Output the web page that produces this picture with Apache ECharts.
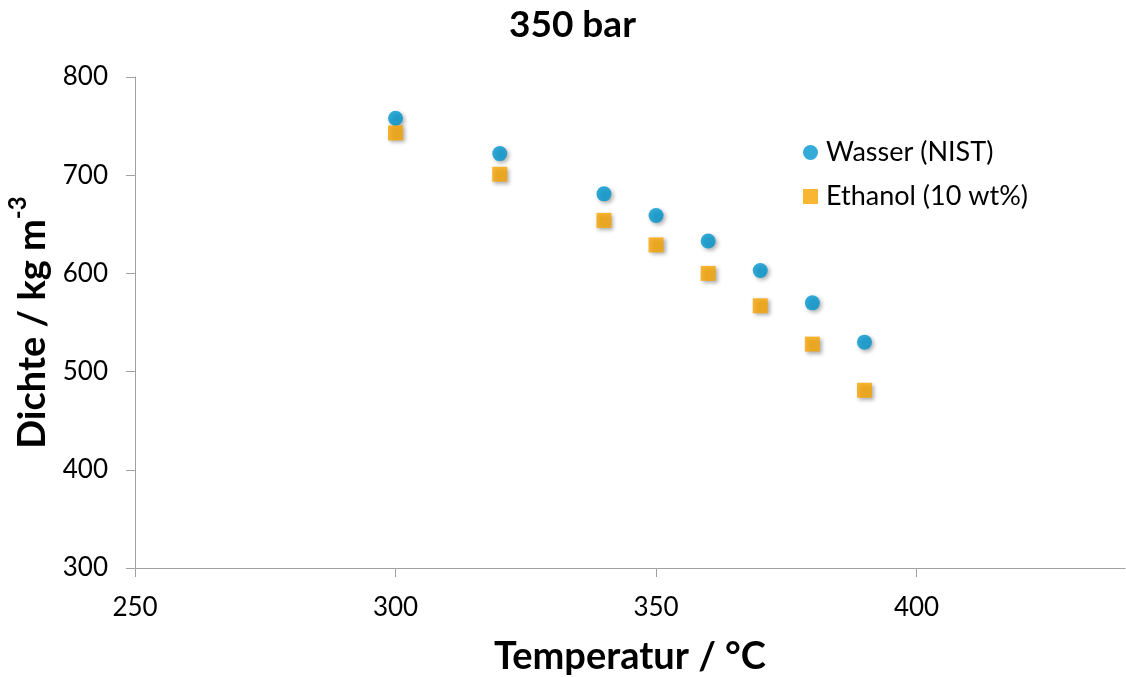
<!DOCTYPE html>
<html>
<head>
<meta charset="utf-8">
<script src="https://cdn.jsdelivr.net/npm/echarts@6/dist/echarts.min.js"></script>
<style>
  html, body { margin: 0; padding: 0; background: #fff; }
  #chart { width: 1126px; height: 677px; }
</style>
</head>
<body>
<div id="chart"></div>
<script>
// Density of water (NIST) and a 10 wt% ethanol mixture at 350 bar
const temperatures = [300, 320, 340, 350, 360, 370, 380, 390];
const wasserDichte = [758, 722, 681, 659, 633, 603, 570, 530];
const ethanolDichte = [743, 701, 654, 629, 600, 567, 528, 481];
const seriesNames = ['Wasser (NIST)', 'Ethanol (10 wt%)'];

const FONT = 'Lato, "Open Sans", sans-serif';
const axisGray = '#A0A0A0';

const pairs = (xs, ys) => xs.map((x, i) => [x, ys[i]]);

const markerShadow = {
  shadowBlur: 4,
  shadowOffsetX: 2,
  shadowOffsetY: 2,
  shadowColor: 'rgba(0,0,0,0.4)'
};

const chart = echarts.init(document.getElementById('chart'));
chart.setOption({
  backgroundColor: '#fff',
  animation: false,
  title: {
    text: '350 bar',
    left: 504,
    top: 2,
    textStyle: { fontFamily: FONT, fontSize: 37, fontWeight: 'bold', color: '#000' }
  },
  legend: {
    orient: 'vertical',
    left: 798,
    top: 134,
    itemWidth: 15,
    itemHeight: 15,
    itemGap: 17,
    textStyle: { fontFamily: FONT, fontSize: 27, color: '#000', padding: [0, 0, 0, 3] },
    data: [
      { name: seriesNames[0], icon: 'circle' },
      { name: seriesNames[1], icon: 'rect' }
    ]
  },
  grid: {
    left: 135, right: 1, top: 77, bottom: 109,
    containLabel: false,
    outerBoundsMode: 'none'
  },
  xAxis: {
    type: 'value',
    min: 250,
    max: 440,
    interval: 50,
    name: 'Temperatur / °C',
    nameLocation: 'middle',
    nameGap: 70,
    nameTextStyle: { fontFamily: FONT, fontSize: 38, fontWeight: 'bold', color: '#000' },
    axisLine: { show: true, lineStyle: { color: axisGray, width: 1 } },
    axisTick: { show: true, inside: false, length: 9, lineStyle: { color: axisGray, width: 1 } },
    axisLabel: { fontFamily: FONT, fontSize: 26, color: '#000', margin: 27, showMaxLabel: false },
    splitLine: { show: false }
  },
  yAxis: {
    type: 'value',
    min: 300,
    max: 800,
    interval: 100,
    name: '{a|Dichte / kg m}{s|-3}',
    nameLocation: 'middle',
    nameGap: 78,
    nameRotate: 90,
    nameTextStyle: {
      rich: {
        a: { fontFamily: FONT, fontSize: 38, fontWeight: 'bold', color: '#000', lineHeight: 46, verticalAlign: 'bottom' },
        s: { fontFamily: FONT, fontSize: 24, fontWeight: 'bold', color: '#000', lineHeight: 46, verticalAlign: 'top', padding: [0, 0, 14, 0] }
      }
    },
    axisLine: { show: true, lineStyle: { color: axisGray, width: 1 } },
    axisTick: { show: true, inside: false, length: 9, lineStyle: { color: axisGray, width: 1 } },
    axisLabel: { fontFamily: FONT, fontSize: 26, color: '#000', margin: 27 },
    splitLine: { show: false }
  },
  series: [
    {
      name: seriesNames[0],
      type: 'scatter',
      symbol: 'circle',
      symbolSize: 15,
      itemStyle: Object.assign({ color: '#0096CF' }, markerShadow),
      data: pairs(temperatures, wasserDichte)
    },
    {
      name: seriesNames[1],
      type: 'scatter',
      symbol: 'rect',
      symbolSize: 15,
      itemStyle: Object.assign({ color: '#F7A400' }, markerShadow),
      data: pairs(temperatures, ethanolDichte)
    }
  ]
});
</script>
</body>
</html>
